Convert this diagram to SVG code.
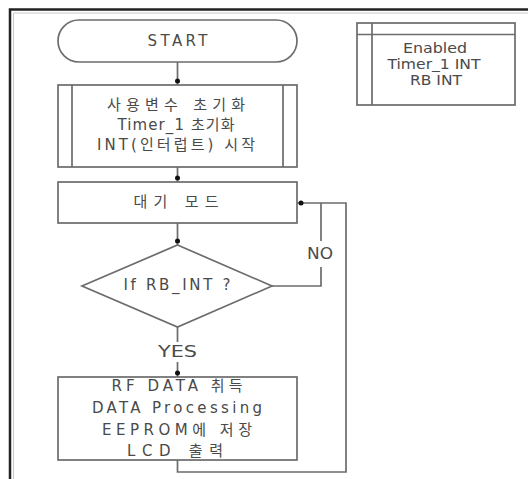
<svg xmlns="http://www.w3.org/2000/svg" width="528" height="479" viewBox="0 0 528 479">
<style>
.shape{fill:#fff;stroke:#6c6c6c;stroke-width:1.7}
.ln{fill:none;stroke:#6c6c6c;stroke-width:1.7}
.t{font-family:"DejaVu Sans","Noto Sans CJK KR",sans-serif;font-size:15px;fill:#4a4a4a;text-anchor:middle;dominant-baseline:central}
.s{font-size:14px}
</style>
<defs>
<marker id="dot" markerWidth="6" markerHeight="6" viewBox="0 0 6 6" refX="7" refY="3" orient="auto" markerUnits="userSpaceOnUse" overflow="visible">
<circle cx="3" cy="3" r="2.5" fill="#111"/>
</marker>
</defs>
<rect width="528" height="479" fill="#fff"/>
<g id="frame">
<path d="M10 479 V9.5 H528" fill="none" stroke="#222" stroke-width="2.5"/>
<path d="M13.5 479 V13 H528" fill="none" stroke="#c8c8c8" stroke-width="1"/>
</g>
<g id="connectors">
<path class="ln" d="M177.5 62 V85" marker-end="url(#dot)"/>
<path class="ln" d="M177.5 167 V182" marker-end="url(#dot)"/>
<path class="ln" d="M177.5 223 V245" marker-end="url(#dot)"/>
<path class="ln" d="M177.5 327 V342"/>
<path class="ln" d="M177.5 362 V377" marker-end="url(#dot)"/>
<path class="ln" d="M272 286 H321 V267"/>
<path class="ln" d="M321 241 V203"/>
<path class="ln" d="M177.5 460 V472 H346 V203 H297" marker-end="url(#dot)"/>
<text class="t" x="320" y="254" textLength="26" lengthAdjust="spacingAndGlyphs">NO</text>
<text class="t" x="177.5" y="352" textLength="39" lengthAdjust="spacingAndGlyphs">YES</text>
</g>
<g id="start">
<rect class="shape" x="58" y="20" width="239" height="42" rx="21" ry="21"/>
<text class="t" x="177.5" y="41" textLength="60" lengthAdjust="spacing">START</text>
</g>
<g id="init">
<rect class="shape" x="58" y="85" width="239" height="82"/>
<path class="ln" d="M72 85 V167 M283 85 V167"/>
<text class="t" x="176" y="105" textLength="138" lengthAdjust="spacing">사용변수 초기화</text>
<text class="t" x="176" y="125" textLength="117" lengthAdjust="spacing">Timer_1 초기화</text>
<text class="t" x="176" y="145" textLength="158" lengthAdjust="spacing">INT(인터럽트) 시작</text>
</g>
<g id="wait">
<rect class="shape" x="58" y="182" width="239" height="41"/>
<text class="t" x="176" y="202" textLength="85" lengthAdjust="spacing">대기 모드</text>
</g>
<g id="decision">
<polygon class="shape" points="177.5,245 272,286 177.5,327 82,286"/>
<text class="t" x="177" y="285" textLength="107" lengthAdjust="spacing">If RB_INT ?</text>
</g>
<g id="process">
<rect class="shape" x="58" y="377" width="239" height="83"/>
<text class="t" x="177" y="386" textLength="131" lengthAdjust="spacing">RF DATA 취득</text>
<text class="t" x="177" y="408" textLength="170" lengthAdjust="spacing">DATA Processing</text>
<text class="t" x="177" y="430" textLength="150" lengthAdjust="spacing">EEPROM에 저장</text>
<text class="t" x="175" y="451" textLength="96" lengthAdjust="spacing">LCD 출력</text>
</g>
<g id="enabled">
<rect class="shape" x="357" y="23" width="158" height="82"/>
<path class="ln" d="M357 34.5 H515 M372 23 V105"/>
<text class="t s" x="435" y="48" textLength="64" lengthAdjust="spacingAndGlyphs">Enabled</text>
<text class="t s" x="434" y="64" textLength="93" lengthAdjust="spacingAndGlyphs">Timer_1 INT</text>
<text class="t s" x="436" y="80" textLength="52" lengthAdjust="spacingAndGlyphs">RB INT</text>
</g>
</svg>
